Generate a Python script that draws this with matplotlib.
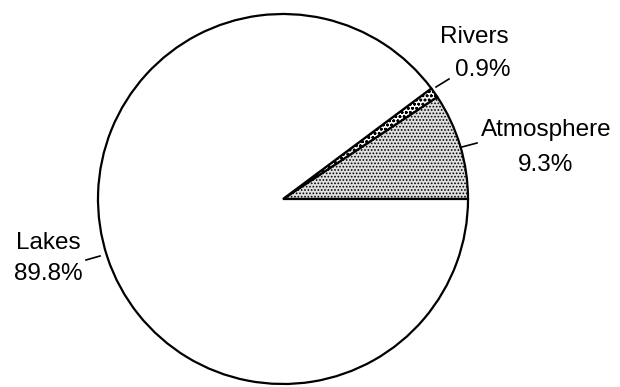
import matplotlib
matplotlib.use("Agg")
from matplotlib import pyplot as plt

# data
labels = ["Atmosphere", "Rivers", "Lakes"]
shares = [9.3, 0.9, 89.8]

plt.rcParams['font.family'] = ['Liberation Sans', 'DejaVu Sans']
plt.rcParams['hatch.linewidth'] = 0.8

fig = plt.figure(figsize=(6.2, 3.87), dpi=100)
ax = fig.add_axes([0, 0, 1, 1])

cx, cy, r = 283, 188, 185
wedges, _ = ax.pie(shares, center=(cx, cy), radius=r, startangle=0,
                   counterclock=True, frame=True,
                   wedgeprops=dict(edgecolor='black', linewidth=1.6))
ax.set_xlim(0, 620)
ax.set_ylim(0, 387)
ax.set_aspect('equal')
ax.axis('off')

wedges[0].set_facecolor('#e0e0e0')
wedges[0].set_hatch('.....')
wedges[1].set_facecolor('white')
wedges[1].set_hatch('oooo')
wedges[2].set_facecolor('white')

fs = 17.5
# label text and leader lines
ax.text(474, 350, "Rivers", fontsize=fs, ha='center', va='center')
ax.text(483, 317, "0.9%", fontsize=fs, ha='center', va='center')
ax.plot([436, 449], [387 - 87, 387 - 79], color='black', lw=1.2)

ax.text(546, 257, "Atmosphere", fontsize=fs, ha='center', va='center')
ax.text(546, 222, "9.3%", fontsize=fs, ha='center', va='center')
ax.plot([462, 477], [387 - 147, 387 - 143], color='black', lw=1.2)

ax.text(48, 144, "Lakes", fontsize=fs, ha='center', va='center')
ax.text(48, 113, "89.8%", fontsize=fs, ha='center', va='center')
ax.plot([100, 86], [387 - 256, 387 - 260], color='black', lw=1.2)

fig.savefig("out.png", dpi=100, facecolor='white')
